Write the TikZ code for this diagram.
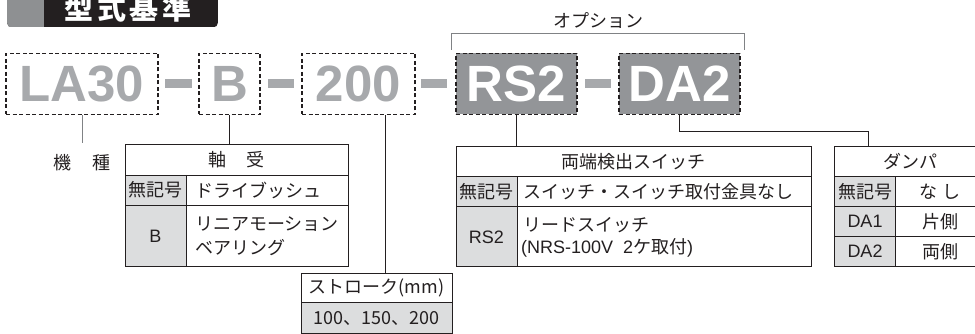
\documentclass[tikz,border=0pt]{standalone}
\usepackage{fontspec}
\setmainfont{Liberation Sans}
\newfontfamily\jp{Noto Sans CJK JP}
\definecolor{codegray}{HTML}{A7A9AC}
\definecolor{optgray}{HTML}{939598}
\definecolor{titlegray}{HTML}{8E9092}
\definecolor{cellgray}{HTML}{DCDDDE}
\definecolor{ink}{HTML}{231F20}
\definecolor{linegray}{HTML}{808285}
\tikzset{
  codebox/.style={draw=ink, dash pattern=on 4pt off 2.5pt, line width=1.3pt,
    minimum height=61pt, inner sep=0pt, text=codegray,
    font=\fontsize{51}{51}\selectfont\bfseries},
  optbox/.style={codebox, fill=optgray, text=white},
  tbl/.style={draw=ink, line width=0.9pt, inner sep=0pt},
  jt/.style={font=\jp\fontsize{18}{20}\selectfont, inner sep=0pt, text=ink},
  lt/.style={font=\fontsize{18}{20}\selectfont, inner sep=0pt, text=ink},
  conn/.style={draw=ink, line width=0.9pt},
  cellline/.style={draw=ink, line width=0.9pt},
}
\begin{document}
\begin{tikzpicture}[x=1pt,y=-1pt]
\useasboundingbox (0,0) rectangle (975,334);
\clip (0,0) rectangle (975,334);
% title
\begin{scope}
  \clip[rounded corners=5pt] (7,-10) rectangle (218,27.5);
  \fill[ink] (7,-10) rectangle (218,27.5);
  \fill[titlegray] (7,-10) rectangle (44,27.5);
\end{scope}
\node[font=\jp\bfseries\fontsize{29}{29}\selectfont, text=white, inner sep=0pt] (title) at (128,8) {型\hspace{3.5pt}式\hspace{3.5pt}基\hspace{3.5pt}準};
% model code
\node[codebox, minimum width=152pt] (bla) at (82,84) {LA30};
\node[codebox, minimum width=61pt] (bb) at (229.5,84) {B};
\node[codebox, minimum width=113pt] (b200) at (358.5,84) {200};
\node[optbox, minimum width=121pt] (brs) at (516.5,84) {RS2};
\node[optbox, minimum width=121pt] (bda) at (679.5,84) {DA2};
\fill[codegray] (165,79) rectangle (192,88);
\fill[codegray] (268,79) rectangle (294,88);
\fill[codegray] (421,79) rectangle (447,88);
\fill[codegray] (585,79) rectangle (611,88);
% option bracket
\draw[linegray, line width=1pt] (451,50) -- (451,34) -- (744,34) -- (744,50);
\node[jt] (opt) at (598,21) {オプション};
% model label
\coordinate (kishutop) at (82,143);
\draw[linegray, line width=1pt] (bla.south) -- (kishutop);
\node[jt] (kishu) at (82,163) {機\hspace{21pt}種};
% bearing table
\fill[cellgray] (125,175) rectangle (186,266);
\draw[cellline] (125,175) -- (348,175) (125,205) -- (348,205) (186,175) -- (186,266);
\node[tbl, minimum width=223pt, minimum height=122pt] (bear) at (236.5,205) {};
\node[jt] (bearh) at (236.5,160) {軸\hspace{21pt}受};
\node[jt] (bear1a) at (155.5,190) {無記号};
\node[jt, anchor=west] (bear1b) at (195,190) {ドライブッシュ};
\node[lt] (bear2a) at (155.5,236) {B};
\node[jt, anchor=west] (bear2b) at (195,224) {リニアモーション};
\node[jt, anchor=west] (bear2c) at (195,248) {ベアリング};
\draw[conn] (bb.south) -- (bb.south |- bear.north);
% stroke table
\fill[cellgray] (301,302.5) rectangle (452,333);
\draw[cellline] (301,302.5) -- (452,302.5);
\node[tbl, minimum width=151pt, minimum height=60pt] (strk) at (376.5,303) {};
\node[jt] (strkh) at (376.5,288) {ストローク(mm)};
\node[jt] (strk1) at (376.5,318) {100、150、200};
\coordinate (s2) at ([xshift=26.5pt]b200.south);
\draw[conn] (s2) -- (s2 |- strk.north);
% switch table
\fill[cellgray] (456,176.5) rectangle (517,266.5);
\draw[cellline] (456,176.5) -- (811,176.5) (456,206.5) -- (811,206.5) (517,176.5) -- (517,266.5);
\node[tbl, minimum width=355pt, minimum height=120pt] (sw) at (633.5,206.5) {};
\node[jt] (swh) at (633.5,161.5) {両端検出スイッチ};
\node[jt] (sw1a) at (486.5,191.5) {無記号};
\node[jt, anchor=west] (sw1b) at (523,191.5) {スイッチ・スイッチ取付金具なし};
\node[lt] (sw2a) at (486.5,237) {RS2};
\node[jt, anchor=west] (sw2b) at (523,225) {リードスイッチ};
\node[lt, anchor=west] (sw2c) at (521,247.5) {(NRS-100V\hspace{10pt}2{\jp ケ取付})};
\draw[conn] (brs.south) -- (brs.south |- sw.north);
% damper table
\fill[cellgray] (834,176.5) rectangle (895.5,266.5);
\draw[cellline] (834,176.5) -- (986,176.5) (834,206.5) -- (986,206.5) (834,236.5) -- (986,236.5) (895.5,176.5) -- (895.5,266.5);
\node[tbl, minimum width=152pt, minimum height=120pt] (dmp) at (910,206.5) {};
\node[jt] (dmph) at (910,161.5) {ダンパ};
\node[jt] (dmp1a) at (865,191.5) {無記号};
\node[jt] (dmp1b) at (940,191.5) {な\hspace{5pt}し};
\node[lt] (dmp2a) at (865,221.5) {DA1};
\node[jt] (dmp2b) at (940,221.5) {片側};
\node[lt] (dmp3a) at (865,251.5) {DA2};
\node[jt] (dmp3b) at (940,251.5) {両側};
\coordinate (dmpin) at (868,146.5);
\draw[conn] (bda.south) -- ++(0,16.5) -| (dmpin);
\end{tikzpicture}
\end{document}
